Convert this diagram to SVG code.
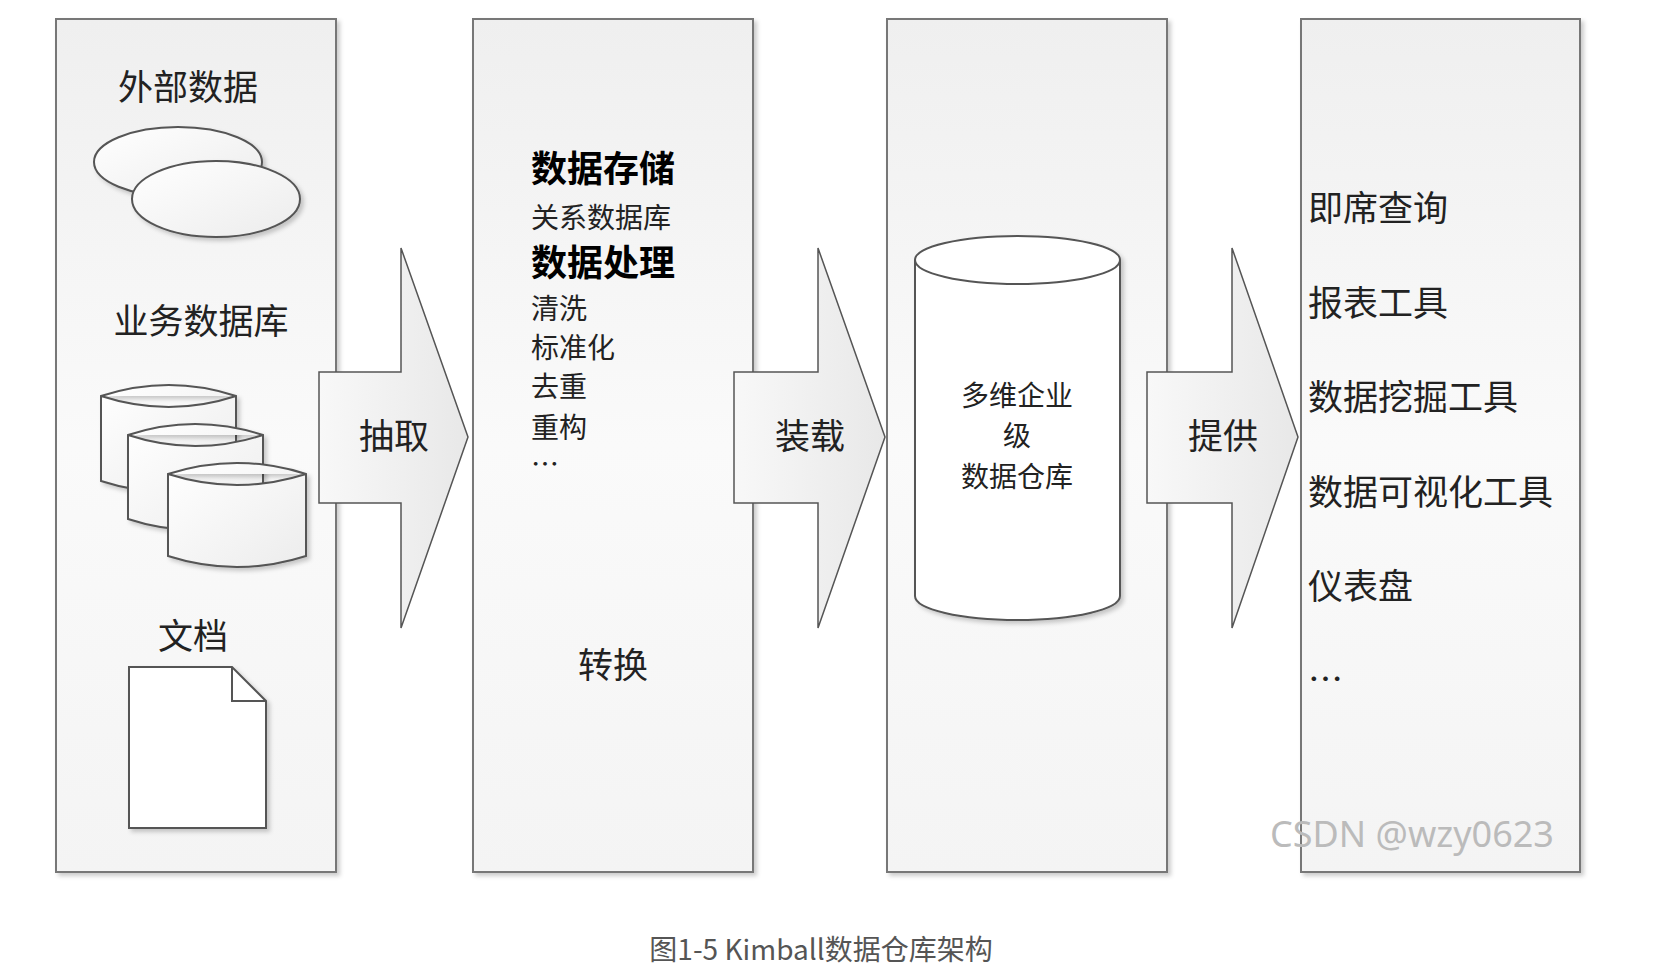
<svg xmlns="http://www.w3.org/2000/svg" width="1662" height="974" viewBox="0 0 1662 974">
<defs>
<linearGradient id="pg" x1="0" y1="0" x2="0" y2="1"><stop offset="0" stop-color="#efefef"/><stop offset="0.5" stop-color="#fafafa"/><stop offset="1" stop-color="#f4f4f4"/></linearGradient>
<linearGradient id="sg" x1="0" y1="0" x2="1" y2="1"><stop offset="0" stop-color="#ffffff"/><stop offset="1" stop-color="#ececec"/></linearGradient>
<linearGradient id="ag" x1="0" y1="0" x2="1" y2="0"><stop offset="0" stop-color="#f8f8f8"/><stop offset="1" stop-color="#e8e8e8"/></linearGradient>
<filter id="sh" x="-10%" y="-10%" width="130%" height="130%"><feDropShadow dx="3" dy="3" stdDeviation="2" flood-color="#000" flood-opacity="0.2"/></filter>
</defs>
<style>
.panel{fill:url(#pg);stroke:#777;stroke-width:2;filter:url(#sh)}
.shape{fill:url(#sg);stroke:#555;stroke-width:2;filter:url(#sh)}
.white{fill:#fff;stroke:#555;stroke-width:2;filter:url(#sh)}
.arrow{fill:url(#ag);stroke:#555;stroke-width:1.5}
text{font-family:"Noto Sans CJK SC","Liberation Sans",sans-serif;fill:#222}
.big{font-size:35px}
.mid{font-size:28px}
.bold{font-size:36px;font-weight:bold;fill:#000}
</style>
<g id="panel1"><rect class="panel" x="56" y="19" width="280" height="853"/>
<text class="big" x="188" y="100" text-anchor="middle">外部数据</text>
<ellipse class="shape" cx="178" cy="162" rx="84" ry="35"/>
<ellipse class="shape" cx="216" cy="199" rx="84" ry="38"/>
<text class="big" x="201" y="334" text-anchor="middle">业务数据库</text>
<path class="shape" d="M101 396 Q169 374 236 396 L236 481 Q169 503 101 481 Z M101 396 Q169 418 236 396"/>
<path class="shape" d="M128 435 Q195 413 263 435 L263 519 Q195 541 128 519 Z M128 435 Q195 457 263 435"/>
<path class="shape" d="M168 474 Q237 452 306 474 L306 556 Q237 578 168 556 Z M168 474 Q237 496 306 474"/>
<text class="big" x="193" y="649" text-anchor="middle">文档</text>
<path class="white" d="M129 667 H232 L266 701 V828 H129 Z"/>
<path d="M232 667 V701 H266" fill="none" stroke="#555" stroke-width="2"/>
</g>
<g id="panel2"><rect class="panel" x="473" y="19" width="280" height="853"/>
<text class="bold" x="531" y="182">数据存储</text>
<text class="mid" x="531" y="228">关系数据库</text>
<text class="bold" x="531" y="276">数据处理</text>
<text class="mid" x="531" y="319">清洗</text>
<text class="mid" x="531" y="358">标准化</text>
<text class="mid" x="531" y="397">去重</text>
<text class="mid" x="531" y="438">重构</text>
<text class="mid" x="531" y="475">…</text>
<text class="big" x="613" y="678" text-anchor="middle">转换</text>
</g>
<g id="panel3"><rect class="panel" x="887" y="19" width="280" height="853"/>
<path class="white" d="M915 260 A102.5 24 0 0 1 1120 260 V596 A102.5 24 0 0 1 915 596 Z"/>
<path d="M915 260 A102.5 24 0 0 0 1120 260" fill="none" stroke="#555" stroke-width="2"/>
<text class="mid" x="1017" y="406" text-anchor="middle">多维企业</text>
<text class="mid" x="1017" y="446" text-anchor="middle">级</text>
<text class="mid" x="1017" y="487" text-anchor="middle">数据仓库</text>
</g>
<g id="panel4"><rect class="panel" x="1301" y="19" width="279" height="853"/>
<text class="big" x="1308" y="221">即席查询</text>
<text class="big" x="1308" y="316">报表工具</text>
<text class="big" x="1308" y="410">数据挖掘工具</text>
<text class="big" x="1308" y="505">数据可视化工具</text>
<text class="big" x="1308" y="599">仪表盘</text>
<text class="big" x="1308" y="692">…</text>
</g>
<g id="connectors">
<path class="arrow" d="M319 372 H401 V248 L468 437 L401 628 V503 H319 Z"/>
<text class="big" x="394" y="449" text-anchor="middle">抽取</text>
<path class="arrow" d="M734 372 H818 V248 L885 437 L818 628 V503 H734 Z"/>
<text class="big" x="810" y="449" text-anchor="middle">装载</text>
<path class="arrow" d="M1147 372 H1232 V248 L1298 437 L1232 628 V503 H1147 Z"/>
<text class="big" x="1223" y="449" text-anchor="middle">提供</text>
</g>
<text x="1412" y="847" text-anchor="middle" style="font-family:'Noto Sans','Liberation Sans',sans-serif;font-size:36px;fill:#bbb">CSDN @wzy0623</text>
<text x="821" y="960" text-anchor="middle" style="font-size:28px;fill:#555">图1-5 Kimball数据仓库架构</text>
</svg>
